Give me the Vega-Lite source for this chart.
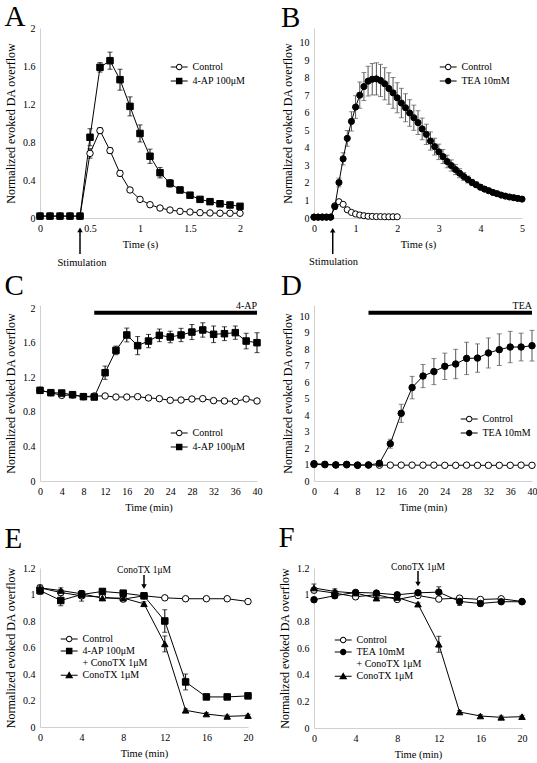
{
 "$schema": "https://vega.github.io/schema/vega-lite/v6.json",
 "padding": {"left": 4, "top": 3, "right": 0, "bottom": 0},
 "background": "white",
 "columns": 2,
 "spacing": {"row": 87, "column": 56},
 "bounds": "flush",
 "align": {"row": "each", "column": "all"},
 "resolve": {"scale": {"shape": "independent", "fill": "independent"}, "legend": {"shape": "independent", "fill": "independent"}},
 "datasets": {"pts": [
  {"p":"A","s":"Control","t":0,"y":0.02,"e":0.01},{"p":"A","s":"Control","t":0.1,"y":0.02,"e":0.01},{"p":"A","s":"Control","t":0.2,"y":0.02,"e":0.01},{"p":"A","s":"Control","t":0.3,"y":0.02,"e":0.01},{"p":"A","s":"Control","t":0.4,"y":0.02,"e":0.01},{"p":"A","s":"Control","t":0.5,"y":0.68,"e":0.05},{"p":"A","s":"Control","t":0.6,"y":0.92,"e":0.03},{"p":"A","s":"Control","t":0.7,"y":0.71,"e":0.03},{"p":"A","s":"Control","t":0.8,"y":0.47,"e":0.03},{"p":"A","s":"Control","t":0.9,"y":0.295,"e":0.02},{"p":"A","s":"Control","t":1,"y":0.196,"e":0.015},{"p":"A","s":"Control","t":1.1,"y":0.14,"e":0.01},{"p":"A","s":"Control","t":1.2,"y":0.105,"e":0.01},{"p":"A","s":"Control","t":1.3,"y":0.084,"e":0.01},{"p":"A","s":"Control","t":1.4,"y":0.07,"e":0.01},{"p":"A","s":"Control","t":1.5,"y":0.063,"e":0.01},{"p":"A","s":"Control","t":1.6,"y":0.056,"e":0.01},{"p":"A","s":"Control","t":1.7,"y":0.053,"e":0.01},{"p":"A","s":"Control","t":1.8,"y":0.05,"e":0.01},{"p":"A","s":"Control","t":1.9,"y":0.05,"e":0.01},{"p":"A","s":"Control","t":2,"y":0.05,"e":0.01},
  {"p":"A","s":"4-AP 100μM","t":0,"y":0.02,"e":0.01},{"p":"A","s":"4-AP 100μM","t":0.1,"y":0.02,"e":0.01},{"p":"A","s":"4-AP 100μM","t":0.2,"y":0.02,"e":0.01},{"p":"A","s":"4-AP 100μM","t":0.3,"y":0.02,"e":0.01},{"p":"A","s":"4-AP 100μM","t":0.4,"y":0.02,"e":0.01},{"p":"A","s":"4-AP 100μM","t":0.5,"y":0.85,"e":0.09},{"p":"A","s":"4-AP 100μM","t":0.6,"y":1.586,"e":0.05},{"p":"A","s":"4-AP 100μM","t":0.7,"y":1.656,"e":0.09},{"p":"A","s":"4-AP 100μM","t":0.8,"y":1.456,"e":0.11},{"p":"A","s":"4-AP 100μM","t":0.9,"y":1.175,"e":0.1},{"p":"A","s":"4-AP 100μM","t":1,"y":0.89,"e":0.09},{"p":"A","s":"4-AP 100μM","t":1.1,"y":0.65,"e":0.075},{"p":"A","s":"4-AP 100μM","t":1.2,"y":0.477,"e":0.055},{"p":"A","s":"4-AP 100μM","t":1.3,"y":0.365,"e":0.04},{"p":"A","s":"4-AP 100μM","t":1.4,"y":0.295,"e":0.03},{"p":"A","s":"4-AP 100μM","t":1.5,"y":0.24,"e":0.025},{"p":"A","s":"4-AP 100μM","t":1.6,"y":0.196,"e":0.02},{"p":"A","s":"4-AP 100μM","t":1.7,"y":0.172,"e":0.02},{"p":"A","s":"4-AP 100μM","t":1.8,"y":0.15,"e":0.015},{"p":"A","s":"4-AP 100μM","t":1.9,"y":0.137,"e":0.015},{"p":"A","s":"4-AP 100μM","t":2,"y":0.123,"e":0.015},
  {"p":"B","s":"Control","t":0,"y":0.05,"e":0.02},{"p":"B","s":"Control","t":0.1,"y":0.05,"e":0.02},{"p":"B","s":"Control","t":0.2,"y":0.05,"e":0.02},{"p":"B","s":"Control","t":0.3,"y":0.05,"e":0.02},{"p":"B","s":"Control","t":0.4,"y":0.05,"e":0.02},{"p":"B","s":"Control","t":0.5,"y":0.7,"e":0.05},{"p":"B","s":"Control","t":0.6,"y":0.93,"e":0.05},{"p":"B","s":"Control","t":0.7,"y":0.78,"e":0.04},{"p":"B","s":"Control","t":0.8,"y":0.47,"e":0.03},{"p":"B","s":"Control","t":0.9,"y":0.32,"e":0.02},{"p":"B","s":"Control","t":1,"y":0.23,"e":0.02},{"p":"B","s":"Control","t":1.1,"y":0.17,"e":0.02},{"p":"B","s":"Control","t":1.2,"y":0.13,"e":0.02},{"p":"B","s":"Control","t":1.3,"y":0.1,"e":0.02},{"p":"B","s":"Control","t":1.4,"y":0.09,"e":0.02},{"p":"B","s":"Control","t":1.5,"y":0.08,"e":0.02},{"p":"B","s":"Control","t":1.6,"y":0.08,"e":0.02},{"p":"B","s":"Control","t":1.7,"y":0.07,"e":0.02},{"p":"B","s":"Control","t":1.8,"y":0.07,"e":0.02},{"p":"B","s":"Control","t":1.9,"y":0.07,"e":0.02},{"p":"B","s":"Control","t":2,"y":0.07,"e":0.02},
  {"p":"B","s":"TEA 10mM","t":0,"y":0.05,"e":0.02},{"p":"B","s":"TEA 10mM","t":0.1,"y":0.05,"e":0.02},{"p":"B","s":"TEA 10mM","t":0.2,"y":0.05,"e":0.02},{"p":"B","s":"TEA 10mM","t":0.3,"y":0.05,"e":0.02},{"p":"B","s":"TEA 10mM","t":0.4,"y":0.05,"e":0.02},{"p":"B","s":"TEA 10mM","t":0.5,"y":0.65,"e":0.15},{"p":"B","s":"TEA 10mM","t":0.6,"y":2.03,"e":0.25},{"p":"B","s":"TEA 10mM","t":0.7,"y":3.38,"e":0.35},{"p":"B","s":"TEA 10mM","t":0.8,"y":4.55,"e":0.45},{"p":"B","s":"TEA 10mM","t":0.9,"y":5.52,"e":0.55},{"p":"B","s":"TEA 10mM","t":1,"y":6.34,"e":0.65},{"p":"B","s":"TEA 10mM","t":1.1,"y":7.02,"e":0.75},{"p":"B","s":"TEA 10mM","t":1.2,"y":7.51,"e":0.8},{"p":"B","s":"TEA 10mM","t":1.3,"y":7.82,"e":0.85},{"p":"B","s":"TEA 10mM","t":1.4,"y":7.93,"e":0.9},{"p":"B","s":"TEA 10mM","t":1.5,"y":7.95,"e":0.92},{"p":"B","s":"TEA 10mM","t":1.6,"y":7.86,"e":0.92},{"p":"B","s":"TEA 10mM","t":1.7,"y":7.67,"e":0.92},{"p":"B","s":"TEA 10mM","t":1.8,"y":7.4,"e":0.9},{"p":"B","s":"TEA 10mM","t":1.9,"y":7.15,"e":0.88},{"p":"B","s":"TEA 10mM","t":2,"y":6.87,"e":0.86},{"p":"B","s":"TEA 10mM","t":2.1,"y":6.57,"e":0.84},{"p":"B","s":"TEA 10mM","t":2.2,"y":6.3,"e":0.8},{"p":"B","s":"TEA 10mM","t":2.3,"y":6.0,"e":0.76},{"p":"B","s":"TEA 10mM","t":2.4,"y":5.73,"e":0.72},{"p":"B","s":"TEA 10mM","t":2.5,"y":5.45,"e":0.68},{"p":"B","s":"TEA 10mM","t":2.6,"y":5.09,"e":0.62},{"p":"B","s":"TEA 10mM","t":2.7,"y":4.78,"e":0.58},{"p":"B","s":"TEA 10mM","t":2.8,"y":4.4,"e":0.52},{"p":"B","s":"TEA 10mM","t":2.9,"y":4.08,"e":0.48},{"p":"B","s":"TEA 10mM","t":3,"y":3.78,"e":0.44},{"p":"B","s":"TEA 10mM","t":3.1,"y":3.51,"e":0.4},{"p":"B","s":"TEA 10mM","t":3.2,"y":3.23,"e":0.36},{"p":"B","s":"TEA 10mM","t":3.3,"y":3.0,"e":0.32},{"p":"B","s":"TEA 10mM","t":3.4,"y":2.77,"e":0.29},{"p":"B","s":"TEA 10mM","t":3.5,"y":2.56,"e":0.26},{"p":"B","s":"TEA 10mM","t":3.6,"y":2.37,"e":0.23},{"p":"B","s":"TEA 10mM","t":3.7,"y":2.2,"e":0.2},{"p":"B","s":"TEA 10mM","t":3.8,"y":2.03,"e":0.18},{"p":"B","s":"TEA 10mM","t":3.9,"y":1.9,"e":0.16},{"p":"B","s":"TEA 10mM","t":4,"y":1.76,"e":0.14},{"p":"B","s":"TEA 10mM","t":4.1,"y":1.65,"e":0.13},{"p":"B","s":"TEA 10mM","t":4.2,"y":1.56,"e":0.12},{"p":"B","s":"TEA 10mM","t":4.3,"y":1.46,"e":0.11},{"p":"B","s":"TEA 10mM","t":4.4,"y":1.39,"e":0.1},{"p":"B","s":"TEA 10mM","t":4.5,"y":1.31,"e":0.09},{"p":"B","s":"TEA 10mM","t":4.6,"y":1.25,"e":0.08},{"p":"B","s":"TEA 10mM","t":4.7,"y":1.2,"e":0.08},{"p":"B","s":"TEA 10mM","t":4.8,"y":1.16,"e":0.07},{"p":"B","s":"TEA 10mM","t":4.9,"y":1.12,"e":0.07},{"p":"B","s":"TEA 10mM","t":5,"y":1.08,"e":0.06},
  {"p":"C","s":"Control","t":0,"y":1.048,"e":0.01},{"p":"C","s":"Control","t":2,"y":1.021,"e":0.01},{"p":"C","s":"Control","t":4,"y":0.99,"e":0.015},{"p":"C","s":"Control","t":6,"y":0.994,"e":0.01},{"p":"C","s":"Control","t":8,"y":0.975,"e":0.01},{"p":"C","s":"Control","t":10,"y":0.983,"e":0.01},{"p":"C","s":"Control","t":12,"y":0.983,"e":0.01},{"p":"C","s":"Control","t":14,"y":0.971,"e":0.01},{"p":"C","s":"Control","t":16,"y":0.971,"e":0.01},{"p":"C","s":"Control","t":18,"y":0.975,"e":0.01},{"p":"C","s":"Control","t":20,"y":0.96,"e":0.01},{"p":"C","s":"Control","t":22,"y":0.952,"e":0.01},{"p":"C","s":"Control","t":24,"y":0.933,"e":0.01},{"p":"C","s":"Control","t":26,"y":0.936,"e":0.01},{"p":"C","s":"Control","t":28,"y":0.948,"e":0.01},{"p":"C","s":"Control","t":30,"y":0.952,"e":0.01},{"p":"C","s":"Control","t":32,"y":0.929,"e":0.01},{"p":"C","s":"Control","t":34,"y":0.925,"e":0.01},{"p":"C","s":"Control","t":36,"y":0.921,"e":0.01},{"p":"C","s":"Control","t":38,"y":0.948,"e":0.01},{"p":"C","s":"Control","t":40,"y":0.925,"e":0.01},
  {"p":"C","s":"4-AP 100μM","t":0,"y":1.048,"e":0.01},{"p":"C","s":"4-AP 100μM","t":2,"y":1.021,"e":0.01},{"p":"C","s":"4-AP 100μM","t":4,"y":1.017,"e":0.01},{"p":"C","s":"4-AP 100μM","t":6,"y":0.998,"e":0.01},{"p":"C","s":"4-AP 100μM","t":8,"y":0.975,"e":0.01},{"p":"C","s":"4-AP 100μM","t":10,"y":0.971,"e":0.01},{"p":"C","s":"4-AP 100μM","t":12,"y":1.252,"e":0.077},{"p":"C","s":"4-AP 100μM","t":14,"y":1.51,"e":0.05},{"p":"C","s":"4-AP 100μM","t":16,"y":1.688,"e":0.08},{"p":"C","s":"4-AP 100μM","t":18,"y":1.565,"e":0.105},{"p":"C","s":"4-AP 100μM","t":20,"y":1.618,"e":0.077},{"p":"C","s":"4-AP 100μM","t":22,"y":1.684,"e":0.073},{"p":"C","s":"4-AP 100μM","t":24,"y":1.665,"e":0.067},{"p":"C","s":"4-AP 100μM","t":26,"y":1.688,"e":0.077},{"p":"C","s":"4-AP 100μM","t":28,"y":1.722,"e":0.087},{"p":"C","s":"4-AP 100μM","t":30,"y":1.746,"e":0.083},{"p":"C","s":"4-AP 100μM","t":32,"y":1.696,"e":0.096},{"p":"C","s":"4-AP 100μM","t":34,"y":1.703,"e":0.08},{"p":"C","s":"4-AP 100μM","t":36,"y":1.715,"e":0.077},{"p":"C","s":"4-AP 100μM","t":38,"y":1.618,"e":0.09},{"p":"C","s":"4-AP 100μM","t":40,"y":1.599,"e":0.115},
  {"p":"D","s":"Control","t":0,"y":1.0,"e":0.02},{"p":"D","s":"Control","t":2,"y":0.99,"e":0.02},{"p":"D","s":"Control","t":4,"y":0.98,"e":0.02},{"p":"D","s":"Control","t":6,"y":0.98,"e":0.02},{"p":"D","s":"Control","t":8,"y":0.97,"e":0.02},{"p":"D","s":"Control","t":10,"y":0.97,"e":0.02},{"p":"D","s":"Control","t":12,"y":0.96,"e":0.02},{"p":"D","s":"Control","t":14,"y":0.96,"e":0.02},{"p":"D","s":"Control","t":16,"y":0.96,"e":0.02},{"p":"D","s":"Control","t":18,"y":0.96,"e":0.02},{"p":"D","s":"Control","t":20,"y":0.96,"e":0.02},{"p":"D","s":"Control","t":22,"y":0.96,"e":0.02},{"p":"D","s":"Control","t":24,"y":0.95,"e":0.02},{"p":"D","s":"Control","t":26,"y":0.95,"e":0.02},{"p":"D","s":"Control","t":28,"y":0.96,"e":0.02},{"p":"D","s":"Control","t":30,"y":0.95,"e":0.02},{"p":"D","s":"Control","t":32,"y":0.95,"e":0.02},{"p":"D","s":"Control","t":34,"y":0.95,"e":0.02},{"p":"D","s":"Control","t":36,"y":0.95,"e":0.02},{"p":"D","s":"Control","t":38,"y":0.96,"e":0.02},{"p":"D","s":"Control","t":40,"y":0.95,"e":0.02},
  {"p":"D","s":"TEA 10mM","t":0,"y":1.05,"e":0.03},{"p":"D","s":"TEA 10mM","t":2,"y":1.01,"e":0.03},{"p":"D","s":"TEA 10mM","t":4,"y":0.97,"e":0.03},{"p":"D","s":"TEA 10mM","t":6,"y":1.01,"e":0.03},{"p":"D","s":"TEA 10mM","t":8,"y":0.95,"e":0.03},{"p":"D","s":"TEA 10mM","t":10,"y":0.97,"e":0.03},{"p":"D","s":"TEA 10mM","t":12,"y":1.07,"e":0.05},{"p":"D","s":"TEA 10mM","t":14,"y":2.26,"e":0.27},{"p":"D","s":"TEA 10mM","t":16,"y":4.1,"e":0.55},{"p":"D","s":"TEA 10mM","t":18,"y":5.66,"e":0.68},{"p":"D","s":"TEA 10mM","t":20,"y":6.36,"e":0.7},{"p":"D","s":"TEA 10mM","t":22,"y":6.63,"e":0.79},{"p":"D","s":"TEA 10mM","t":24,"y":6.95,"e":0.8},{"p":"D","s":"TEA 10mM","t":26,"y":7.09,"e":0.89},{"p":"D","s":"TEA 10mM","t":28,"y":7.43,"e":0.98},{"p":"D","s":"TEA 10mM","t":30,"y":7.45,"e":0.86},{"p":"D","s":"TEA 10mM","t":32,"y":7.76,"e":0.91},{"p":"D","s":"TEA 10mM","t":34,"y":7.96,"e":0.96},{"p":"D","s":"TEA 10mM","t":36,"y":8.12,"e":0.95},{"p":"D","s":"TEA 10mM","t":38,"y":8.12,"e":0.84},{"p":"D","s":"TEA 10mM","t":40,"y":8.2,"e":0.93},
  {"p":"E","s":"Control","t":0,"y":1.05,"e":0.02},{"p":"E","s":"Control","t":2,"y":1.015,"e":0.02},{"p":"E","s":"Control","t":4,"y":0.99,"e":0.04},{"p":"E","s":"Control","t":6,"y":0.98,"e":0.01},{"p":"E","s":"Control","t":8,"y":0.965,"e":0.01},{"p":"E","s":"Control","t":10,"y":0.99,"e":0.01},{"p":"E","s":"Control","t":12,"y":0.975,"e":0.01},{"p":"E","s":"Control","t":14,"y":0.968,"e":0.01},{"p":"E","s":"Control","t":16,"y":0.968,"e":0.01},{"p":"E","s":"Control","t":18,"y":0.968,"e":0.01},{"p":"E","s":"Control","t":20,"y":0.947,"e":0.01},
  {"p":"E","s":"4-AP 100μM + ConoTX 1μM","t":0,"y":1.03,"e":0.03},{"p":"E","s":"4-AP 100μM + ConoTX 1μM","t":2,"y":0.955,"e":0.04},{"p":"E","s":"4-AP 100μM + ConoTX 1μM","t":4,"y":1.0,"e":0.03},{"p":"E","s":"4-AP 100μM + ConoTX 1μM","t":6,"y":1.023,"e":0.015},{"p":"E","s":"4-AP 100μM + ConoTX 1μM","t":8,"y":1.01,"e":0.015},{"p":"E","s":"4-AP 100μM + ConoTX 1μM","t":10,"y":0.99,"e":0.015},{"p":"E","s":"4-AP 100μM + ConoTX 1μM","t":12,"y":0.8,"e":0.085},{"p":"E","s":"4-AP 100μM + ConoTX 1μM","t":14,"y":0.34,"e":0.06},{"p":"E","s":"4-AP 100μM + ConoTX 1μM","t":16,"y":0.227,"e":0.015},{"p":"E","s":"4-AP 100μM + ConoTX 1μM","t":18,"y":0.227,"e":0.015},{"p":"E","s":"4-AP 100μM + ConoTX 1μM","t":20,"y":0.235,"e":0.015},
  {"p":"E","s":"ConoTX 1μM","t":0,"y":1.05,"e":0.02},{"p":"E","s":"ConoTX 1μM","t":2,"y":1.03,"e":0.02},{"p":"E","s":"ConoTX 1μM","t":4,"y":1.005,"e":0.02},{"p":"E","s":"ConoTX 1μM","t":6,"y":0.973,"e":0.015},{"p":"E","s":"ConoTX 1μM","t":8,"y":0.973,"e":0.015},{"p":"E","s":"ConoTX 1μM","t":10,"y":0.93,"e":0.015},{"p":"E","s":"ConoTX 1μM","t":12,"y":0.627,"e":0.06},{"p":"E","s":"ConoTX 1μM","t":14,"y":0.126,"e":0.01},{"p":"E","s":"ConoTX 1μM","t":16,"y":0.098,"e":0.01},{"p":"E","s":"ConoTX 1μM","t":18,"y":0.08,"e":0.01},{"p":"E","s":"ConoTX 1μM","t":20,"y":0.086,"e":0.01},
  {"p":"F","s":"Control","t":0,"y":1.034,"e":0.02},{"p":"F","s":"Control","t":2,"y":1.012,"e":0.02},{"p":"F","s":"Control","t":4,"y":0.984,"e":0.015},{"p":"F","s":"Control","t":6,"y":1.0,"e":0.01},{"p":"F","s":"Control","t":8,"y":0.964,"e":0.01},{"p":"F","s":"Control","t":10,"y":0.994,"e":0.01},{"p":"F","s":"Control","t":12,"y":0.967,"e":0.01},{"p":"F","s":"Control","t":14,"y":0.974,"e":0.015},{"p":"F","s":"Control","t":16,"y":0.964,"e":0.01},{"p":"F","s":"Control","t":18,"y":0.969,"e":0.01},{"p":"F","s":"Control","t":20,"y":0.949,"e":0.01},
  {"p":"F","s":"TEA 10mM + ConoTX 1μM","t":0,"y":0.962,"e":0.01},{"p":"F","s":"TEA 10mM + ConoTX 1μM","t":2,"y":0.992,"e":0.02},{"p":"F","s":"TEA 10mM + ConoTX 1μM","t":4,"y":1.017,"e":0.015},{"p":"F","s":"TEA 10mM + ConoTX 1μM","t":6,"y":1.012,"e":0.01},{"p":"F","s":"TEA 10mM + ConoTX 1μM","t":8,"y":0.999,"e":0.01},{"p":"F","s":"TEA 10mM + ConoTX 1μM","t":10,"y":1.014,"e":0.01},{"p":"F","s":"TEA 10mM + ConoTX 1μM","t":12,"y":1.019,"e":0.04},{"p":"F","s":"TEA 10mM + ConoTX 1μM","t":14,"y":0.949,"e":0.03},{"p":"F","s":"TEA 10mM + ConoTX 1μM","t":16,"y":0.934,"e":0.02},{"p":"F","s":"TEA 10mM + ConoTX 1μM","t":18,"y":0.947,"e":0.01},{"p":"F","s":"TEA 10mM + ConoTX 1μM","t":20,"y":0.947,"e":0.01},
  {"p":"F","s":"ConoTX 1μM","t":0,"y":1.05,"e":0.03},{"p":"F","s":"ConoTX 1μM","t":2,"y":1.024,"e":0.02},{"p":"F","s":"ConoTX 1μM","t":4,"y":1.012,"e":0.015},{"p":"F","s":"ConoTX 1μM","t":6,"y":0.974,"e":0.015},{"p":"F","s":"ConoTX 1μM","t":8,"y":0.979,"e":0.01},{"p":"F","s":"ConoTX 1μM","t":10,"y":0.929,"e":0.01},{"p":"F","s":"ConoTX 1μM","t":12,"y":0.628,"e":0.06},{"p":"F","s":"ConoTX 1μM","t":14,"y":0.12,"e":0.01},{"p":"F","s":"ConoTX 1μM","t":16,"y":0.09,"e":0.01},{"p":"F","s":"ConoTX 1μM","t":18,"y":0.08,"e":0.01},{"p":"F","s":"ConoTX 1μM","t":20,"y":0.085,"e":0.01}
 ]},
 "concat": [
  {
   "width": 200, "height": 190,
   "title": {"text": "A", "offset": -9},
   "layer": [
    {"data": {"name": "pts"}, "transform": [{"filter": "datum.p === 'A'"}],
     "resolve": {"scale": {"shape": "independent"}},
     "encoding": {
      "x": {"field": "t", "type": "quantitative", "title": "Time (s)", "scale": {"domain": [0, 2], "nice": false}, "axis": {"values": [0, 0.5, 1, 1.5, 2], "format": "~g", "labelOverlap": false, "tickCount": 50}},
      "y": {"field": "y", "type": "quantitative", "title": "Normalized evoked DA overflow", "scale": {"domain": [0, 2], "nice": false}, "axis": {"values": [0, 0.4, 0.8, 1.2, 1.6, 2], "format": "~g", "labelOverlap": false, "tickCount": 50}}
     },
     "layer": [
      {"mark": {"type": "errorbar", "ticks": true, "size": 5, "thickness": 1, "color": "black"}, "encoding": {"yError": {"field": "e"}}},
      {"mark": {"type": "line", "color": "black", "strokeWidth": 1}, "encoding": {"detail": {"field": "s"}}},
      {"mark": {"type": "point", "filled": true, "stroke": "black", "strokeWidth": 1, "size": 42, "opacity": 1},
       "encoding": {
        "shape": {"field": "s", "type": "nominal", "scale": {"domain": ["Control", "4-AP 100μM"], "range": ["circle", "square"]}, "legend": null},
        "fill": {"field": "s", "type": "nominal", "scale": {"domain": ["Control", "4-AP 100μM"], "range": ["white", "black"]}, "legend": null}
       }},
      {"mark": {"type": "point", "filled": true, "color": "black", "size": 42, "opacity": 0},
       "encoding": {
        "shape": {"field": "s", "type": "nominal", "scale": {"domain": ["Control", "4-AP 100μM"], "range": ["M-2.6,-0.16H-1V0.16H-2.6Z M1,-0.16H2.6V0.16H1Z M1,0A1,1,0,1,1,-1,0A1,1,0,1,1,1,0Z M0.7,0A0.7,0.7,0,1,0,-0.7,0A0.7,0.7,0,1,0,0.7,0Z", "M-2.6,-0.16H-1V0.16H-2.6Z M1,-0.16H2.6V0.16H1Z M-1,-1H1V1H-1Z"]},
         "legend": {"title": null, "orient": "none", "legendX": 129, "legendY": 34, "rowPadding": 4}}
       }}
     ]},
    {"data": {"values": [{}]}, "mark": {"type": "rule", "strokeWidth": 1.5, "color": "black"},
     "encoding": {"x": {"datum": 0.4, "type": "quantitative", "title": "Time (s)"}, "y": {"datum": -0.13, "type": "quantitative", "title": "Normalized evoked DA overflow"}, "y2": {"datum": -0.38}}},
    {"data": {"values": [{}]}, "mark": {"type": "point", "shape": "triangle-up", "filled": true, "color": "black", "size": 30, "opacity": 1},
     "encoding": {"x": {"datum": 0.4, "type": "quantitative", "title": "Time (s)"}, "y": {"datum": -0.125, "type": "quantitative", "title": "Normalized evoked DA overflow"}}},
    {"data": {"values": [{}]}, "mark": {"type": "text", "fontSize": 10.5, "font": "Liberation Serif", "color": "black", "baseline": "middle"},
     "encoding": {"x": {"datum": 0.42, "type": "quantitative", "title": "Time (s)"}, "y": {"datum": -0.47, "type": "quantitative", "title": "Normalized evoked DA overflow"}, "text": {"value": "Stimulation"}}}
   ]
  },
  {
   "width": 208, "height": 190,
   "title": {"text": "B", "offset": -5},
   "layer": [
    {"data": {"name": "pts"}, "transform": [{"filter": "datum.p === 'B'"}],
     "resolve": {"scale": {"shape": "independent"}},
     "encoding": {
      "x": {"field": "t", "type": "quantitative", "title": "Time (s)", "scale": {"domain": [0, 5], "nice": false}, "axis": {"values": [0, 1, 2, 3, 4, 5], "format": "~g", "labelOverlap": false, "tickCount": 50}},
      "y": {"field": "y", "type": "quantitative", "title": "Normalized evoked DA overflow", "scale": {"domain": [0, 10.857], "nice": false}, "axis": {"values": [0, 1, 2, 3, 4, 5, 6, 7, 8, 9, 10], "format": "~g", "labelOverlap": false, "tickCount": 50}}
     },
     "layer": [
      {"mark": {"type": "errorbar", "ticks": true, "size": 5, "thickness": 1, "color": "#555"}, "encoding": {"yError": {"field": "e"}}},
      {"mark": {"type": "line", "color": "black", "strokeWidth": 1}, "encoding": {"detail": {"field": "s"}}},
      {"mark": {"type": "point", "filled": true, "stroke": "black", "strokeWidth": 1, "size": 38, "opacity": 1},
       "encoding": {
        "shape": {"field": "s", "type": "nominal", "scale": {"domain": ["Control", "TEA 10mM"], "range": ["circle", "circle"]}, "legend": null},
        "fill": {"field": "s", "type": "nominal", "scale": {"domain": ["Control", "TEA 10mM"], "range": ["white", "black"]}, "legend": null}
       }},
      {"mark": {"type": "point", "filled": true, "color": "black", "size": 42, "opacity": 0},
       "encoding": {
        "shape": {"field": "s", "type": "nominal", "scale": {"domain": ["Control", "TEA 10mM"], "range": ["M-2.6,-0.16H-1V0.16H-2.6Z M1,-0.16H2.6V0.16H1Z M1,0A1,1,0,1,1,-1,0A1,1,0,1,1,1,0Z M0.7,0A0.7,0.7,0,1,0,-0.7,0A0.7,0.7,0,1,0,0.7,0Z", "M-2.6,-0.16H-1V0.16H-2.6Z M1,-0.16H2.6V0.16H1Z M1,0A1,1,0,1,1,-1,0A1,1,0,1,1,1,0Z"]},
         "legend": {"title": null, "orient": "none", "legendX": 124, "legendY": 34, "rowPadding": 4}}
       }}
     ]},
    {"data": {"values": [{}]}, "mark": {"type": "rule", "strokeWidth": 1.5, "color": "black"},
     "encoding": {"x": {"datum": 0.45, "type": "quantitative", "title": "Time (s)"}, "y": {"datum": -0.7, "type": "quantitative", "title": "Normalized evoked DA overflow"}, "y2": {"datum": -2.06}}},
    {"data": {"values": [{}]}, "mark": {"type": "point", "shape": "triangle-up", "filled": true, "color": "black", "size": 30, "opacity": 1},
     "encoding": {"x": {"datum": 0.45, "type": "quantitative", "title": "Time (s)"}, "y": {"datum": -0.7, "type": "quantitative", "title": "Normalized evoked DA overflow"}}},
    {"data": {"values": [{}]}, "mark": {"type": "text", "fontSize": 10.5, "font": "Liberation Serif", "color": "black", "baseline": "middle"},
     "encoding": {"x": {"datum": 0.47, "type": "quantitative", "title": "Time (s)"}, "y": {"datum": -2.5, "type": "quantitative", "title": "Normalized evoked DA overflow"}, "text": {"value": "Stimulation"}}}
   ]
  },
  {
   "width": 217, "height": 176,
   "title": {"text": "C", "offset": 0},
   "layer": [
    {"data": {"name": "pts"}, "transform": [{"filter": "datum.p === 'C'"}],
     "resolve": {"scale": {"shape": "independent"}},
     "encoding": {
      "x": {"field": "t", "type": "quantitative", "title": "Time (min)", "scale": {"domain": [0, 40], "nice": false}, "axis": {"values": [0, 4, 8, 12, 16, 20, 24, 28, 32, 36, 40], "format": "~g", "labelOverlap": false, "tickCount": 50}},
      "y": {"field": "y", "type": "quantitative", "title": "Normalized evoked DA overflow", "scale": {"domain": [0, 2.0347], "nice": false}, "axis": {"values": [0, 0.4, 0.8, 1.2, 1.6, 2], "format": "~g", "labelOverlap": false, "tickCount": 50}}
     },
     "layer": [
      {"mark": {"type": "errorbar", "ticks": true, "size": 5, "thickness": 1, "color": "black"}, "encoding": {"yError": {"field": "e"}}},
      {"mark": {"type": "line", "color": "black", "strokeWidth": 1}, "encoding": {"detail": {"field": "s"}}},
      {"mark": {"type": "point", "filled": true, "stroke": "black", "strokeWidth": 1, "size": 42, "opacity": 1},
       "encoding": {
        "shape": {"field": "s", "type": "nominal", "scale": {"domain": ["Control", "4-AP 100μM"], "range": ["circle", "square"]}, "legend": null},
        "fill": {"field": "s", "type": "nominal", "scale": {"domain": ["Control", "4-AP 100μM"], "range": ["white", "black"]}, "legend": null}
       }},
      {"mark": {"type": "point", "filled": true, "color": "black", "size": 42, "opacity": 0},
       "encoding": {
        "shape": {"field": "s", "type": "nominal", "scale": {"domain": ["Control", "4-AP 100μM"], "range": ["M-2.6,-0.16H-1V0.16H-2.6Z M1,-0.16H2.6V0.16H1Z M1,0A1,1,0,1,1,-1,0A1,1,0,1,1,1,0Z M0.7,0A0.7,0.7,0,1,0,-0.7,0A0.7,0.7,0,1,0,0.7,0Z", "M-2.6,-0.16H-1V0.16H-2.6Z M1,-0.16H2.6V0.16H1Z M-1,-1H1V1H-1Z"]},
         "legend": {"title": null, "orient": "none", "legendX": 129, "legendY": 123, "rowPadding": 4}}
       }}
     ]},
    {"data": {"values": [{}]}, "mark": {"type": "rule", "strokeWidth": 4, "color": "black"},
     "encoding": {"x": {"datum": 10, "type": "quantitative", "title": "Time (min)"}, "x2": {"datum": 40}, "y": {"datum": 1.946, "type": "quantitative", "title": "Normalized evoked DA overflow"}}},
    {"data": {"values": [{}]}, "mark": {"type": "text", "fontSize": 10, "font": "Liberation Serif", "color": "black", "align": "right", "baseline": "middle"},
     "encoding": {"x": {"datum": 40, "type": "quantitative", "title": "Time (min)"}, "y": {"datum": 2.023, "type": "quantitative", "title": "Normalized evoked DA overflow"}, "text": {"value": "4-AP"}}}
   ]
  },
  {
   "width": 218, "height": 176,
   "title": {"text": "D", "offset": 0},
   "layer": [
    {"data": {"name": "pts"}, "transform": [{"filter": "datum.p === 'D'"}],
     "resolve": {"scale": {"shape": "independent"}},
     "encoding": {
      "x": {"field": "t", "type": "quantitative", "title": "Time (min)", "scale": {"domain": [0, 40], "nice": false}, "axis": {"values": [0, 4, 8, 12, 16, 20, 24, 28, 32, 36, 40], "format": "~g", "labelOverlap": false, "tickCount": 50}},
      "y": {"field": "y", "type": "quantitative", "title": "Normalized evoked DA overflow", "scale": {"domain": [0, 10.667], "nice": false}, "axis": {"values": [0, 1, 2, 3, 4, 5, 6, 7, 8, 9, 10], "format": "~g", "labelOverlap": false, "tickCount": 50}}
     },
     "layer": [
      {"mark": {"type": "errorbar", "ticks": true, "size": 5, "thickness": 1, "color": "#555"}, "encoding": {"yError": {"field": "e"}}},
      {"mark": {"type": "line", "color": "black", "strokeWidth": 1}, "encoding": {"detail": {"field": "s"}}},
      {"mark": {"type": "point", "filled": true, "stroke": "black", "strokeWidth": 1, "size": 42, "opacity": 1},
       "encoding": {
        "shape": {"field": "s", "type": "nominal", "scale": {"domain": ["Control", "TEA 10mM"], "range": ["circle", "circle"]}, "legend": null},
        "fill": {"field": "s", "type": "nominal", "scale": {"domain": ["Control", "TEA 10mM"], "range": ["white", "black"]}, "legend": null}
       }},
      {"mark": {"type": "point", "filled": true, "color": "black", "size": 42, "opacity": 0},
       "encoding": {
        "shape": {"field": "s", "type": "nominal", "scale": {"domain": ["Control", "TEA 10mM"], "range": ["M-2.6,-0.16H-1V0.16H-2.6Z M1,-0.16H2.6V0.16H1Z M1,0A1,1,0,1,1,-1,0A1,1,0,1,1,1,0Z M0.7,0A0.7,0.7,0,1,0,-0.7,0A0.7,0.7,0,1,0,0.7,0Z", "M-2.6,-0.16H-1V0.16H-2.6Z M1,-0.16H2.6V0.16H1Z M1,0A1,1,0,1,1,-1,0A1,1,0,1,1,1,0Z"]},
         "legend": {"title": null, "orient": "none", "legendX": 145, "legendY": 109, "rowPadding": 4}}
       }}
     ]},
    {"data": {"values": [{}]}, "mark": {"type": "rule", "strokeWidth": 4, "color": "black"},
     "encoding": {"x": {"datum": 10, "type": "quantitative", "title": "Time (min)"}, "x2": {"datum": 40}, "y": {"datum": 10.2, "type": "quantitative", "title": "Normalized evoked DA overflow"}}},
    {"data": {"values": [{}]}, "mark": {"type": "text", "fontSize": 10, "font": "Liberation Serif", "color": "black", "align": "right", "baseline": "middle"},
     "encoding": {"x": {"datum": 40, "type": "quantitative", "title": "Time (min)"}, "y": {"datum": 10.6, "type": "quantitative", "title": "Normalized evoked DA overflow"}, "text": {"value": "TEA"}}}
   ]
  },
  {
   "width": 208, "height": 159,
   "title": {"text": "E", "offset": 9},
   "layer": [
    {"data": {"name": "pts"}, "transform": [{"filter": "datum.p === 'E'"}],
     "resolve": {"scale": {"shape": "independent"}},
     "encoding": {
      "x": {"field": "t", "type": "quantitative", "title": "Time (min)", "scale": {"domain": [0, 20], "nice": false}, "axis": {"values": [0, 4, 8, 12, 16, 20], "format": "~g", "labelOverlap": false, "tickCount": 50}},
      "y": {"field": "y", "type": "quantitative", "title": "Normalized evoked DA overflow", "scale": {"domain": [0, 1.2], "nice": false}, "axis": {"values": [0, 0.2, 0.4, 0.6, 0.8, 1, 1.2], "format": "~g", "labelOverlap": false, "tickCount": 50}}
     },
     "layer": [
      {"mark": {"type": "errorbar", "ticks": true, "size": 5, "thickness": 1, "color": "black"}, "encoding": {"yError": {"field": "e"}}},
      {"mark": {"type": "line", "color": "black", "strokeWidth": 1}, "encoding": {"detail": {"field": "s"}}},
      {"mark": {"type": "point", "filled": true, "stroke": "black", "strokeWidth": 1, "size": 42, "opacity": 1},
       "encoding": {
        "shape": {"field": "s", "type": "nominal", "scale": {"domain": ["Control", "4-AP 100μM + ConoTX 1μM", "ConoTX 1μM"], "range": ["circle", "square", "triangle-up"]}, "legend": null},
        "fill": {"field": "s", "type": "nominal", "scale": {"domain": ["Control", "4-AP 100μM + ConoTX 1μM", "ConoTX 1μM"], "range": ["white", "black", "black"]}, "legend": null}
       }},
      {"mark": {"type": "point", "filled": true, "color": "black", "size": 42, "opacity": 0},
       "encoding": {
        "shape": {"field": "s", "type": "nominal", "scale": {"domain": ["Control", "4-AP 100μM + ConoTX 1μM", "+ ConoTX 1μM", "ConoTX 1μM"], "range": ["M-2.6,-0.16H-1V0.16H-2.6Z M1,-0.16H2.6V0.16H1Z M1,0A1,1,0,1,1,-1,0A1,1,0,1,1,1,0Z M0.7,0A0.7,0.7,0,1,0,-0.7,0A0.7,0.7,0,1,0,0.7,0Z", "M-2.6,-0.16H-1V0.16H-2.6Z M1,-0.16H2.6V0.16H1Z M-1,-1H1V1H-1Z", "M0,0", "M-2.6,-0.06H-0.7V0.26H-2.6Z M0.7,-0.06H2.6V0.26H0.7Z M0,-1.15L1.25,1H-1.25Z"]},
         "legend": {"title": null, "orient": "none", "legendX": 19, "legendY": 66, "rowPadding": 2,
          "labelExpr": "indexof(datum.label, ' + ') > 0 ? slice(datum.label, 0, indexof(datum.label, ' + ')) : datum.label"}}
       }}
     ]},
    {"data": {"values": [{}]}, "mark": {"type": "rule", "strokeWidth": 1.5, "color": "black"},
     "encoding": {"x": {"datum": 10, "type": "quantitative", "title": "Time (min)"}, "y": {"datum": 1.147, "type": "quantitative", "title": "Normalized evoked DA overflow"}, "y2": {"datum": 1.06}}},
    {"data": {"values": [{}]}, "mark": {"type": "point", "shape": "triangle-down", "filled": true, "color": "black", "size": 30, "opacity": 1},
     "encoding": {"x": {"datum": 10, "type": "quantitative", "title": "Time (min)"}, "y": {"datum": 1.06, "type": "quantitative", "title": "Normalized evoked DA overflow"}}},
    {"data": {"values": [{}]}, "mark": {"type": "text", "fontSize": 9.5, "font": "Liberation Serif", "color": "black", "baseline": "middle"},
     "encoding": {"x": {"datum": 10, "type": "quantitative", "title": "Time (min)"}, "y": {"datum": 1.185, "type": "quantitative", "title": "Normalized evoked DA overflow"}, "text": {"value": "ConoTX 1μM"}}}
   ]
  },
  {
   "width": 208, "height": 160,
   "title": {"text": "F", "offset": 9},
   "layer": [
    {"data": {"name": "pts"}, "transform": [{"filter": "datum.p === 'F'"}],
     "resolve": {"scale": {"shape": "independent"}},
     "encoding": {
      "x": {"field": "t", "type": "quantitative", "title": "Time (min)", "scale": {"domain": [0, 20], "nice": false}, "axis": {"values": [0, 4, 8, 12, 16, 20], "format": "~g", "labelOverlap": false, "tickCount": 50}},
      "y": {"field": "y", "type": "quantitative", "title": "Normalized evoked DA overflow", "scale": {"domain": [0, 1.2], "nice": false}, "axis": {"values": [0, 0.2, 0.4, 0.6, 0.8, 1, 1.2], "format": "~g", "labelOverlap": false, "tickCount": 50}}
     },
     "layer": [
      {"mark": {"type": "errorbar", "ticks": true, "size": 5, "thickness": 1, "color": "black"}, "encoding": {"yError": {"field": "e"}}},
      {"mark": {"type": "line", "color": "black", "strokeWidth": 1}, "encoding": {"detail": {"field": "s"}}},
      {"mark": {"type": "point", "filled": true, "stroke": "black", "strokeWidth": 1, "size": 42, "opacity": 1},
       "encoding": {
        "shape": {"field": "s", "type": "nominal", "scale": {"domain": ["Control", "TEA 10mM + ConoTX 1μM", "ConoTX 1μM"], "range": ["circle", "circle", "triangle-up"]}, "legend": null},
        "fill": {"field": "s", "type": "nominal", "scale": {"domain": ["Control", "TEA 10mM + ConoTX 1μM", "ConoTX 1μM"], "range": ["white", "black", "black"]}, "legend": null}
       }},
      {"mark": {"type": "point", "filled": true, "color": "black", "size": 42, "opacity": 0},
       "encoding": {
        "shape": {"field": "s", "type": "nominal", "scale": {"domain": ["Control", "TEA 10mM + ConoTX 1μM", "+ ConoTX 1μM", "ConoTX 1μM"], "range": ["M-2.6,-0.16H-1V0.16H-2.6Z M1,-0.16H2.6V0.16H1Z M1,0A1,1,0,1,1,-1,0A1,1,0,1,1,1,0Z M0.7,0A0.7,0.7,0,1,0,-0.7,0A0.7,0.7,0,1,0,0.7,0Z", "M-2.6,-0.16H-1V0.16H-2.6Z M1,-0.16H2.6V0.16H1Z M1,0A1,1,0,1,1,-1,0A1,1,0,1,1,1,0Z", "M0,0", "M-2.6,-0.06H-0.7V0.26H-2.6Z M0.7,-0.06H2.6V0.26H0.7Z M0,-1.15L1.25,1H-1.25Z"]},
         "legend": {"title": null, "orient": "none", "legendX": 19, "legendY": 67, "rowPadding": 2,
          "labelExpr": "indexof(datum.label, ' + ') > 0 ? slice(datum.label, 0, indexof(datum.label, ' + ')) : datum.label"}}
       }}
     ]},
    {"data": {"values": [{}]}, "mark": {"type": "rule", "strokeWidth": 1.5, "color": "black"},
     "encoding": {"x": {"datum": 10, "type": "quantitative", "title": "Time (min)"}, "y": {"datum": 1.178, "type": "quantitative", "title": "Normalized evoked DA overflow"}, "y2": {"datum": 1.085}}},
    {"data": {"values": [{}]}, "mark": {"type": "point", "shape": "triangle-down", "filled": true, "color": "black", "size": 30, "opacity": 1},
     "encoding": {"x": {"datum": 10, "type": "quantitative", "title": "Time (min)"}, "y": {"datum": 1.08, "type": "quantitative", "title": "Normalized evoked DA overflow"}}},
    {"data": {"values": [{}]}, "mark": {"type": "text", "fontSize": 9.5, "font": "Liberation Serif", "color": "black", "baseline": "middle"},
     "encoding": {"x": {"datum": 10, "type": "quantitative", "title": "Time (min)"}, "y": {"datum": 1.207, "type": "quantitative", "title": "Normalized evoked DA overflow"}, "text": {"value": "ConoTX 1μM"}}}
   ]
  }
 ],
 "config": {
  "view": {"stroke": null},
  "font": "Liberation Serif",
  "title": {"font": "Liberation Serif", "fontSize": 29, "fontWeight": "normal", "anchor": "start", "color": "black", "frame": "bounds"},
  "axis": {"domainColor": "#d0d0d0", "domainWidth": 1, "ticks": false, "grid": false, "labelFont": "Liberation Serif", "labelFontSize": 10, "labelColor": "black", "labelPadding": 5, "labelFlush": false, "labelOverlap": false, "titleFont": "Liberation Serif", "titleFontWeight": "normal", "titleColor": "black"},
  "axisY": {"titleFontSize": 12, "titlePadding": 5},
  "axisX": {"titleFontSize": 10.5, "titlePadding": 6},
  "legend": {"labelFont": "Liberation Serif", "labelFontSize": 10, "labelColor": "black", "symbolSize": 42, "symbolOffset": 5.2, "labelOffset": 8.3, "padding": 0, "symbolStrokeWidth": 0, "symbolOpacity": 1}
 }
}
